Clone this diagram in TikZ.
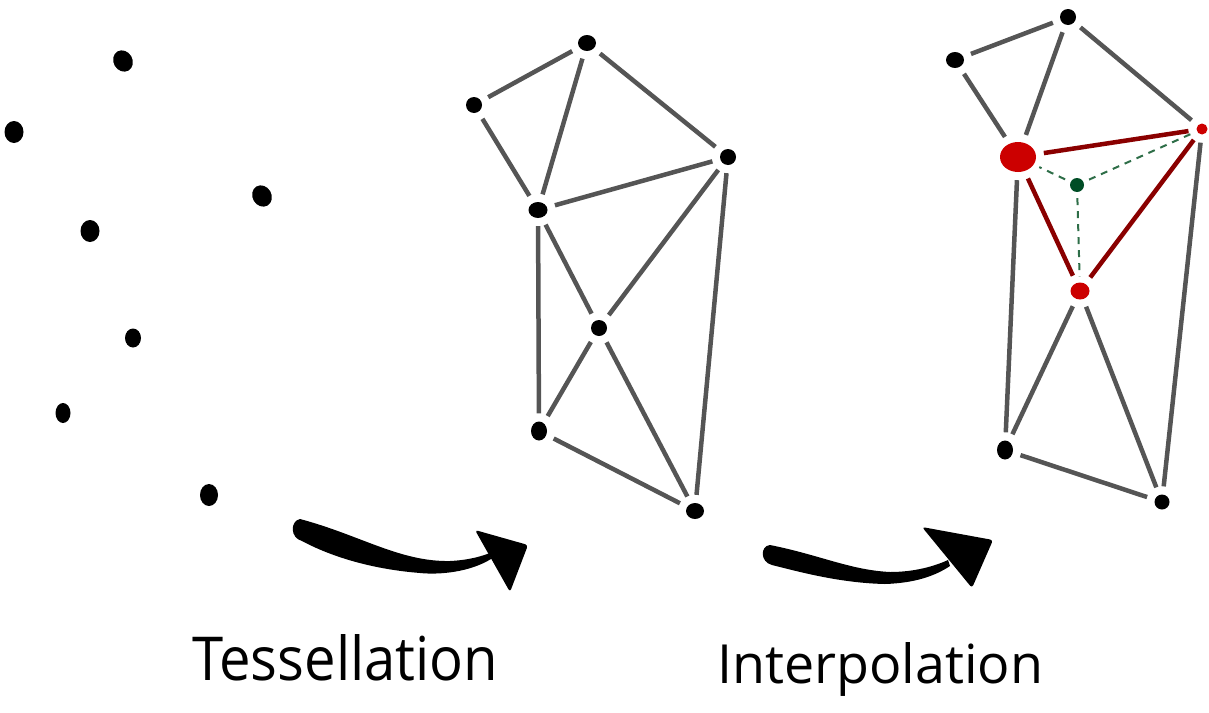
\documentclass[tikz,border=0pt]{standalone}
\usepackage{fontspec}
\setmainfont{Open Sans}
\usetikzlibrary{shapes,arrows.meta,positioning,calc}
\definecolor{meshgray}{HTML}{555555}
\definecolor{hotred}{HTML}{8A0000}
\definecolor{hotdot}{HTML}{CC0000}
\definecolor{probegreen}{HTML}{004D26}
\definecolor{probedash}{HTML}{2E6E48}

\begin{document}
\begin{tikzpicture}[x=1pt, y=-1pt,
    scatter/.style={ellipse, fill=black, inner sep=0pt, minimum width=19pt, minimum height=22pt},
    vtx/.style={ellipse, fill=black, inner sep=0pt, minimum width=16pt, minimum height=16pt},
    meshline/.style={draw=meshgray, line width=4.5pt, shorten <=8pt, shorten >=8pt},
    hotline/.style={draw=hotred, line width=4.5pt, shorten <=8pt, shorten >=8pt},
    probeline/.style={draw=probedash, line width=2pt, dash pattern=on 7pt off 6pt, shorten <=6pt, shorten >=6pt},
    stagetext/.style={anchor=base west, inner sep=0pt}
]
    \useasboundingbox (0,0) rectangle (1209,712);

    % scattered points
    \node[scatter, rotate=30] (s1) at (123,61) {};
    \node[scatter] (s2) at (14,132) {};
    \node[scatter, rotate=30] (s3) at (262,196) {};
    \node[scatter] (s4) at (90,231) {};
    \node[scatter, minimum width=16pt, minimum height=19pt] (s5) at (133,338) {};
    \node[scatter, minimum width=15pt, minimum height=20pt] (s6) at (63,413) {};
    \node[scatter, minimum width=18pt, minimum height=22pt] (s7) at (209,495) {};

    % tessellated mesh
    \node[vtx, minimum width=18pt] (ma) at (587,43) {};
    \node[vtx] (mb) at (474,105) {};
    \node[vtx] (mc) at (728,157) {};
    \node[vtx, minimum width=19pt] (md) at (538,210) {};
    \node[vtx] (me) at (599,328) {};
    \node[vtx, minimum height=19pt] (mf) at (539,431) {};
    \node[vtx, minimum width=18pt] (mg) at (695,511) {};

    \draw[meshline] (ma) -- (mb);
    \draw[meshline] (ma) -- (md);
    \draw[meshline] (ma) -- (mc);
    \draw[meshline] (mb) -- (md);
    \draw[meshline] (md) -- (mc);
    \draw[meshline] (md) -- (me);
    \draw[meshline] (mc) -- (me);
    \draw[meshline] (md) -- (mf);
    \draw[meshline] (me) -- (mf);
    \draw[meshline] (me) -- (mg);
    \draw[meshline] (mc) -- (mg);
    \draw[meshline] (mf) -- (mg);

    % interpolated mesh
    \node[vtx] (ia) at (1068,17) {};
    \node[vtx, minimum width=18pt] (ib) at (955,60) {};
    \node[vtx, fill=hotdot, minimum size=11pt, minimum width=11pt, minimum height=11pt] (ic) at (1202,129) {};
    \node[vtx, fill=hotdot, minimum width=36pt, minimum height=30pt] (id) at (1018,157) {};
    \node[vtx, fill=hotdot, minimum width=19pt, minimum height=17pt] (ie) at (1080,291) {};
    \node[vtx, minimum height=19pt] (if) at (1005,450) {};
    \node[vtx, minimum width=15pt, minimum height=15pt] (ig) at (1162,502) {};
    \node[vtx, fill=probegreen, minimum width=14pt, minimum height=14pt] (ip) at (1077,185) {};

    \draw[meshline] (ia) -- (ib);
    \draw[meshline] (ia) -- (id);
    \draw[meshline] (ia) -- (ic);
    \draw[meshline] (ib) -- (id);
    \draw[meshline] (id) -- (if);
    \draw[meshline] (ie) -- (if);
    \draw[meshline] (ie) -- (ig);
    \draw[meshline] (ic) -- (ig);
    \draw[meshline] (if) -- (ig);
    \draw[hotline] (id) -- (ic);
    \draw[hotline] (id) -- (ie);
    \draw[hotline] (ic) -- (ie);
    \draw[probeline] (ip) -- (id);
    \draw[probeline] (ip) -- (ic);
    \draw[probeline] (ip) -- (ie);

    % arrows
    \fill (300,519) .. controls (360,535) and (400,562) .. (450,561)
        .. controls (470,560) and (482,556) .. (490,553)
        -- (491,559) .. controls (470,572) and (440,575) .. (420,573)
        .. controls (370,569) and (330,556) .. (302,541)
        .. controls (290,538) and (290,521) .. (300,519) -- cycle;
    \fill[rounded corners=3pt] (475,530) -- (528,545) -- (510,592) -- cycle;

    \fill (770,545) .. controls (820,555) and (850,570) .. (890,572)
        .. controls (915,572) and (935,566) .. (948,560)
        -- (950,566) .. controls (935,576) and (915,583) .. (885,584)
        .. controls (840,583) and (800,572) .. (772,565)
        .. controls (760,562) and (760,546) .. (770,545) -- cycle;
    \fill[rounded corners=3pt] (922,527) -- (993,540) -- (972,588) -- cycle;

    % captions
    \node[stagetext] (tess) at (192,680) {\resizebox{306pt}{46pt}{Tessellation}};
    \node[stagetext] (interp) at (717,683) {\resizebox{326pt}{41pt}{Interpolation}};
\end{tikzpicture}
\end{document}
